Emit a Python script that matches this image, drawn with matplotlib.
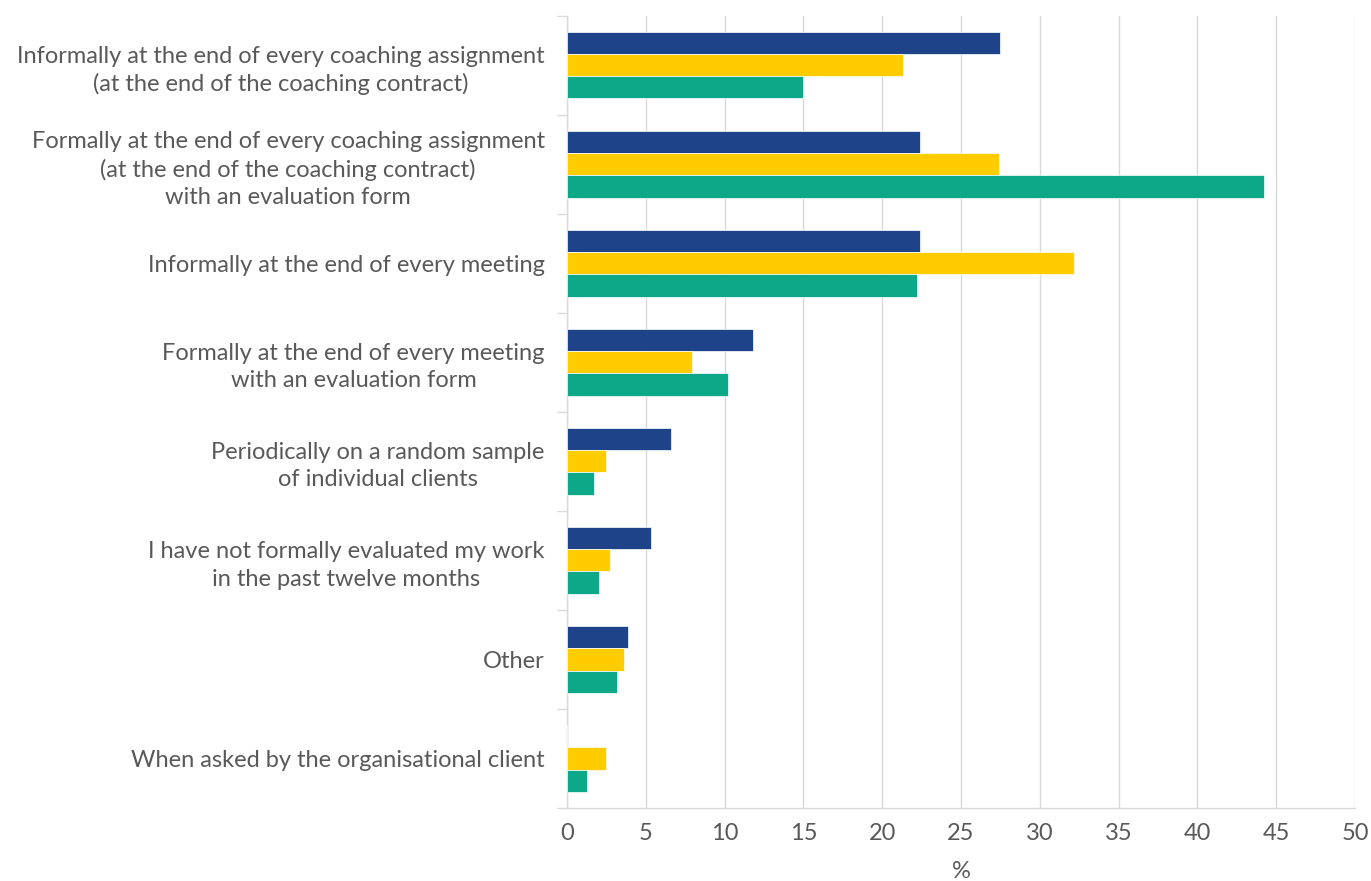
import matplotlib
matplotlib.use("Agg")
import matplotlib.pyplot as plt
import numpy as np

plt.rcParams['font.family'] = ['Lato', 'DejaVu Sans']

categories = [
    "Informally at the end of every coaching assignment\n(at the end of the coaching contract)",
    "Formally at the end of every coaching assignment\n(at the end of the coaching contract)\nwith an evaluation form",
    "Informally at the end of every meeting",
    "Formally at the end of every meeting\nwith an evaluation form",
    "Periodically on a random sample\nof individual clients",
    "I have not formally evaluated my work\nin the past twelve months",
    "Other",
    "When asked by the organisational client",
]

wave_1 = [27.5, 22.4, 22.4, 11.8, 6.6, 5.3, 3.9, 0.0]
wave_2 = [21.3, 27.4, 32.2, 7.9, 2.5, 2.7, 3.6, 2.5]
wave_3 = [15.0, 44.2, 22.2, 10.2, 1.7, 2.0, 3.2, 1.3]

series = [wave_1, wave_2, wave_3]
colors = ["#1F4388", "#FFCC00", "#0DA888"]

x_ticks = list(range(0, 55, 5))
x_label = "%"

text_color = "#595959"
grid_color = "#D9D9D9"

fig = plt.figure(figsize=(13.71, 8.81), dpi=100)
ax = fig.add_axes([567 / 1371, 1 - 808 / 881, (1355 - 567) / 1371, (808 - 15.7) / 881])

n = len(categories)
y = np.arange(n)
bar_h = 0.224
offsets = [-bar_h, 0.0, bar_h]

for vals, col, off in zip(series, colors, offsets):
    ax.barh(y + off, vals, height=bar_h, color=col, edgecolor="white",
            linewidth=0.5, zorder=3)

ax.set_xlim(0, 50)
ax.set_ylim(n - 0.5, -0.5)

ax.set_xticks(x_ticks)
ax.set_xticklabels([str(t) for t in x_ticks])
ax.tick_params(axis="x", length=0, pad=11, labelsize=17, labelcolor=text_color)

ax.set_yticks(y)
ax.set_yticklabels(categories)
ax.tick_params(axis="y", which="major", length=0, pad=16, labelsize=17,
               labelcolor=text_color)
ax.set_yticks(np.arange(-0.5, n + 0.5, 1.0), minor=True)
ax.tick_params(axis="y", which="minor", length=7, width=1.0, color=grid_color)
for t in ax.get_yticklabels():
    t.set_multialignment("center")
    t.set_linespacing(1.36)

ax.grid(axis="x", color=grid_color, linewidth=1.0, zorder=0)
ax.set_axisbelow(True)

for side in ["top", "right"]:
    ax.spines[side].set_visible(False)
for side in ["left", "bottom"]:
    ax.spines[side].set_color(grid_color)
    ax.spines[side].set_linewidth(1.0)

ax.set_xlabel(x_label, fontsize=17, color=text_color, labelpad=12)

fig.savefig("out.png", dpi=100, facecolor="white")
